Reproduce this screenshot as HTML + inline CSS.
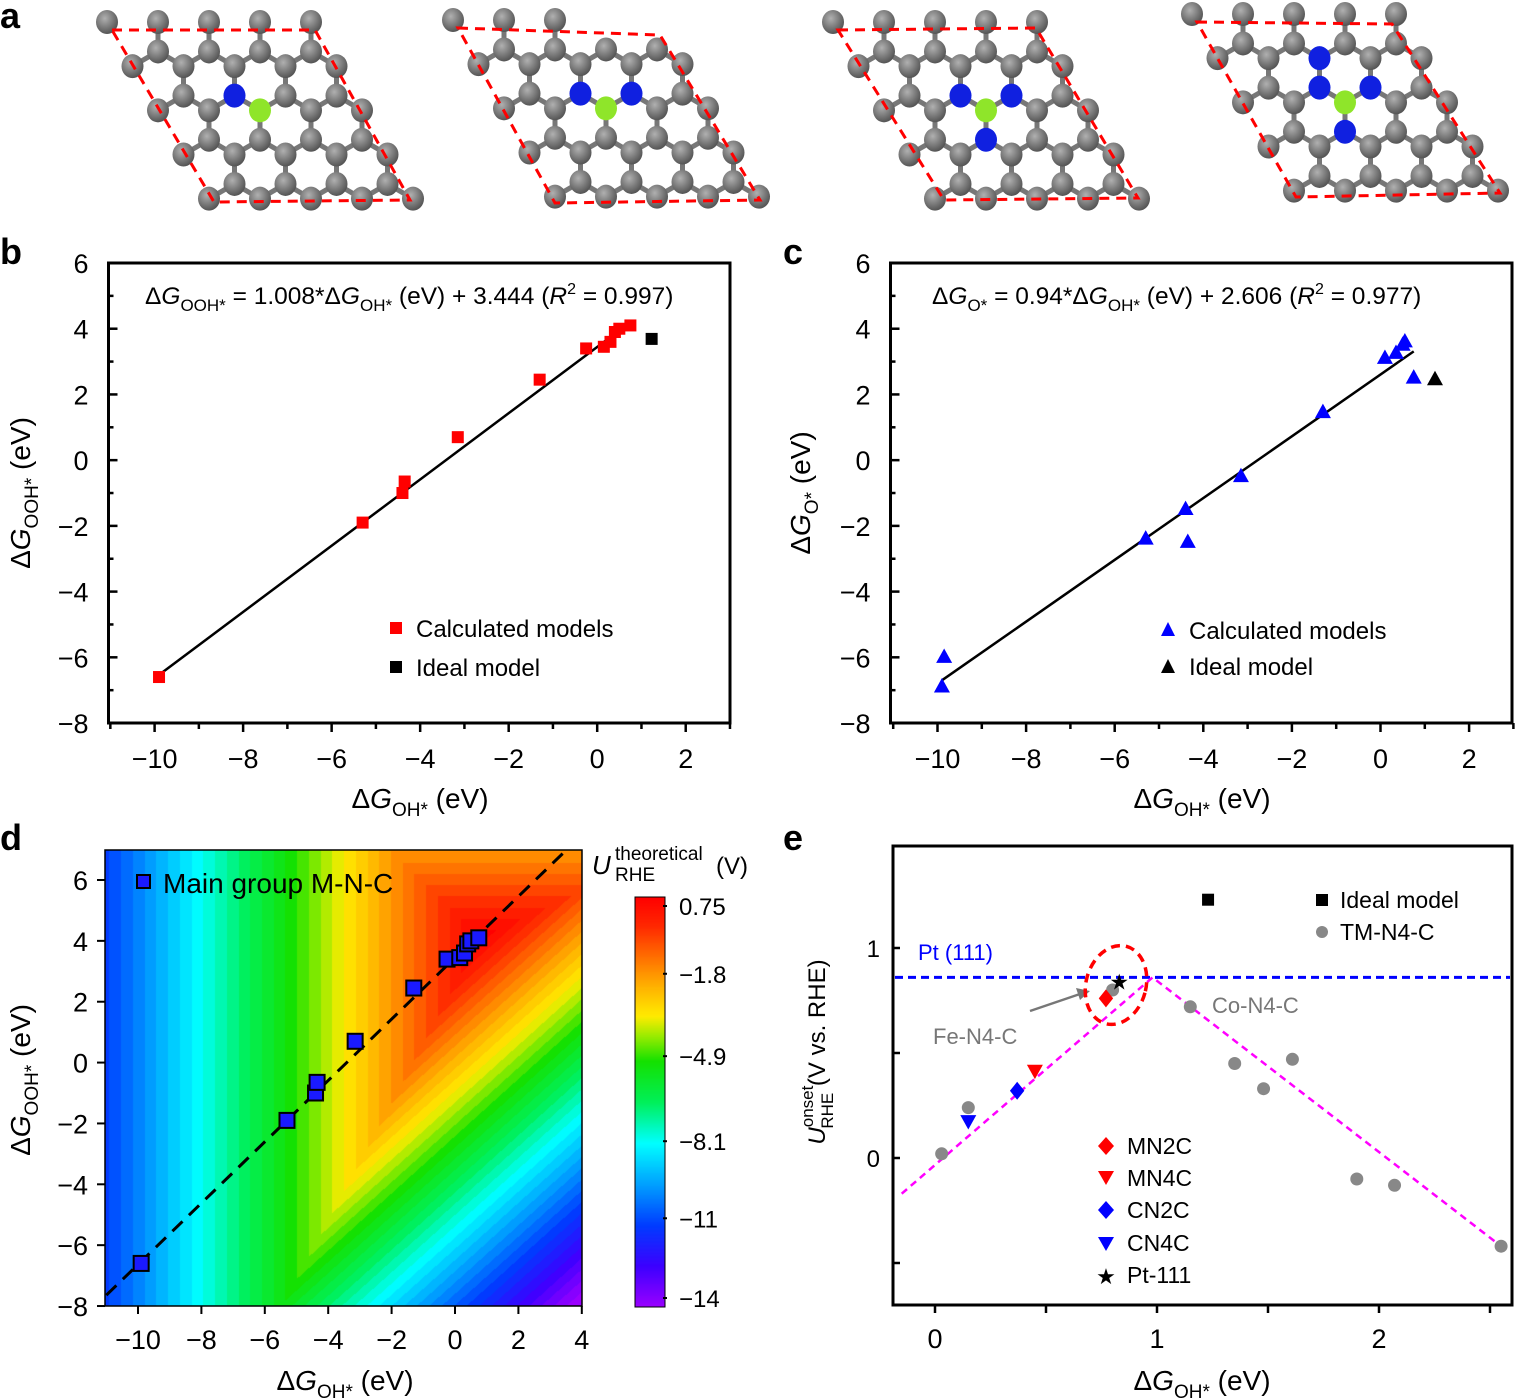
<!DOCTYPE html>
<html><head><meta charset="utf-8">
<style>
html,body{margin:0;padding:0;background:#fff;}
svg{display:block;font-family:"Liberation Sans",Arial,sans-serif;}
#heat{position:absolute;left:105px;top:850px;}
#cbar{position:absolute;left:635px;top:897px;}
</style></head>
<body>
<div style="position:relative;width:1516px;height:1400px;">
<canvas id="heat" width="477" height="456"></canvas>
<canvas id="cbar" width="30" height="410"></canvas>
<svg id="root" width="1516" height="1400" style="position:absolute;left:0;top:0">
  <g font-weight="bold" font-size="36">
    <text x="0" y="28">a</text>
    <text x="0" y="264">b</text>
    <text x="783" y="264">c</text>
    <text x="0" y="850">d</text>
    <text x="783" y="850">e</text>
  </g>
  <g id="mol"></g>

  <!-- panel b -->
  <rect x="108.5" y="263" width="621.5" height="460" fill="none" stroke="#000" stroke-width="3"/>
  <text x="145" y="304" font-size="24.5">Δ<tspan font-style="italic">G</tspan><tspan font-size="17" dy="7">OOH*</tspan><tspan dy="-7"> = 1.008*Δ</tspan><tspan font-style="italic">G</tspan><tspan font-size="17" dy="7">OH*</tspan><tspan dy="-7"> (eV) + 3.444 (</tspan><tspan font-style="italic">R</tspan><tspan font-size="16" dy="-10">2</tspan><tspan dy="10"> = 0.997)</tspan></text>
  <g id="pb"></g>
  <text x="416" y="637" font-size="24">Calculated models</text>
  <text x="416" y="676" font-size="24">Ideal model</text>
  <rect x="390" y="622" width="12" height="12" fill="#f00"/>
  <rect x="390" y="661" width="12" height="12" fill="#000"/>
  <text x="420" y="808" font-size="28" text-anchor="middle">Δ<tspan font-style="italic">G</tspan><tspan font-size="19" dy="8">OH*</tspan><tspan dy="-8"> (eV)</tspan></text>
  <text transform="translate(30,493) rotate(-90)" font-size="28" text-anchor="middle">Δ<tspan font-style="italic">G</tspan><tspan font-size="19" dy="8">OOH*</tspan><tspan dy="-8"> (eV)</tspan></text>

  <!-- panel c -->
  <rect x="890.5" y="263" width="621.5" height="460" fill="none" stroke="#000" stroke-width="3"/>
  <text x="932" y="304" font-size="24.5">Δ<tspan font-style="italic">G</tspan><tspan font-size="17" dy="7">O*</tspan><tspan dy="-7"> = 0.94*Δ</tspan><tspan font-style="italic">G</tspan><tspan font-size="17" dy="7">OH*</tspan><tspan dy="-7"> (eV) + 2.606 (</tspan><tspan font-style="italic">R</tspan><tspan font-size="16" dy="-10">2</tspan><tspan dy="10"> = 0.977)</tspan></text>
  <g id="pc"></g>
  <text x="1189" y="639" font-size="24">Calculated models</text>
  <text x="1189" y="675" font-size="24">Ideal model</text>
  <polygon points="1168,622 1161,636 1175,636" fill="#00f"/>
  <polygon points="1168,659 1161,673 1175,673" fill="#000"/>
  <text x="1202" y="808" font-size="28" text-anchor="middle">Δ<tspan font-style="italic">G</tspan><tspan font-size="19" dy="8">OH*</tspan><tspan dy="-8"> (eV)</tspan></text>
  <text transform="translate(810,493) rotate(-90)" font-size="28" text-anchor="middle">Δ<tspan font-style="italic">G</tspan><tspan font-size="19" dy="8">O*</tspan><tspan dy="-8"> (eV)</tspan></text>

  <!-- panel d -->
  <g id="pd"></g>
  <rect x="105" y="850" width="477" height="456" fill="none" stroke="#000" stroke-width="1.5"/>
  <rect x="137" y="875" width="13" height="13" fill="#1a1aff" stroke="#000" stroke-width="2"/>
  <text x="163" y="893" font-size="28">Main group M-N-C</text>
  <rect x="635" y="897" width="30" height="410" fill="none" stroke="#000" stroke-width="1"/>
  <g>
    <text x="592" y="874" font-size="26" font-style="italic">U</text>
    <text x="615" y="860" font-size="19">theoretical</text>
    <text x="615" y="881" font-size="19">RHE</text>
    <text x="716" y="874" font-size="24">(V)</text>
  </g>
  <g id="cbt"></g>
  <text x="345" y="1390" font-size="28" text-anchor="middle">Δ<tspan font-style="italic">G</tspan><tspan font-size="19" dy="8">OH*</tspan><tspan dy="-8"> (eV)</tspan></text>
  <text transform="translate(30,1080) rotate(-90)" font-size="28" text-anchor="middle">Δ<tspan font-style="italic">G</tspan><tspan font-size="19" dy="8">OOH*</tspan><tspan dy="-8"> (eV)</tspan></text>

  <!-- panel e -->
  <rect x="893" y="846" width="619" height="459" fill="none" stroke="#000" stroke-width="3"/>
  <g id="pe"></g>
  <text x="918" y="960" font-size="22" fill="#00f">Pt (111)</text>
  <text x="933" y="1044" font-size="22" fill="#777">Fe-N4-C</text>
  <text x="1212" y="1013" font-size="22" fill="#777">Co-N4-C</text>
  <line x1="1030" y1="1011" x2="1080" y2="994" stroke="#777" stroke-width="2.5"/>
  <polygon points="1090,991 1076,988 1080,1000" fill="#777"/>
  <ellipse cx="1116" cy="985" rx="30" ry="40" fill="none" stroke="#f00" stroke-width="3.5" stroke-dasharray="9,6" transform="rotate(15 1116 985)"/>
  <rect x="1316" y="894" width="12" height="12" fill="#000"/>
  <text x="1340" y="908" font-size="23">Ideal model</text>
  <circle cx="1322" cy="932" r="6" fill="#888"/>
  <text x="1340" y="940" font-size="23">TM-N4-C</text>
  <g font-size="23">
    <polygon points="1106,1137 1114,1146 1106,1155 1098,1146" fill="#f00"/>
    <text x="1127" y="1154">MN2C</text>
    <polygon points="1098,1171 1114,1171 1106,1185" fill="#f00"/>
    <text x="1127" y="1186">MN4C</text>
    <polygon points="1106,1201 1114,1210 1106,1219 1098,1210" fill="#00f"/>
    <text x="1127" y="1218">CN2C</text>
    <polygon points="1098,1237 1114,1237 1106,1251" fill="#00f"/>
    <text x="1127" y="1251">CN4C</text>
    <text x="1106" y="1284" text-anchor="middle" font-size="22">★</text>
    <text x="1127" y="1283">Pt-111</text>
  </g>
  <text x="1202" y="1390" font-size="28" text-anchor="middle">Δ<tspan font-style="italic">G</tspan><tspan font-size="19" dy="8">OH*</tspan><tspan dy="-8"> (eV)</tspan></text>
  <text transform="translate(825,1052) rotate(-90)" font-size="24" text-anchor="middle"><tspan font-style="italic">U</tspan><tspan font-size="17" dy="-12">onset</tspan><tspan font-size="17" dx="-43" dy="20">RHE</tspan><tspan dy="-8"> (V vs. RHE)</tspan></text>
</svg>
</div>
<script>
// ---------- data ----------
const bOH   = [-9.9,-5.3,-4.4,-4.35,-3.15,-1.3,-0.25,0.15,0.3,0.4,0.5,0.75];
const bOOH  = [-6.6,-1.9,-1.0,-0.65,0.7,2.45,3.4,3.45,3.6,3.9,4.0,4.1];
const bIdealOH = [1.23];
const bIdealOOH = [3.69];
const fitB = [1.008, 3.444];

const cOH  = [-9.9,-9.85,-5.3,-4.4,-4.35,-3.15,-1.3,0.1,0.35,0.5,0.55,0.75];
const cO   = [-6.85,-5.95,-2.35,-1.45,-2.45,-0.45,1.5,3.15,3.3,3.55,3.65,2.55];
const cIdealOH = [1.23];
const cIdealO = [2.5];
const fitC = [0.94, 2.606];

const xTicksBC = [-10,-8,-6,-4,-2,0,2];
const yTicksBC = [-8,-6,-4,-2,0,2,4,6];
const xTicksD = [-10,-8,-6,-4,-2,0,2,4];
const yTicksD = [-8,-6,-4,-2,0,2,4,6];
const cbTicks = [0.75,-1.8,-4.9,-8.1,-11,-14];

const eTmX = [0.03,0.15,0.8,1.15,1.35,1.48,1.61,1.9,2.07,2.55];
const eTmY = [0.02,0.24,0.8,0.72,0.45,0.33,0.47,-0.1,-0.13,-0.42];
const eIdeal = [1.23,1.23];
const eMN2C = [0.77,0.76];
const eMN4C = [0.45,0.41];
const eCN2C = [0.37,0.32];
const eCN4C = [0.15,0.17];
const ePt = [0.83,0.84];
const ePtLine = [0.86];
const eVolcanoX = [-0.15,0.98,2.55];
const eVolcanoY = [-0.17,0.86,-0.42];
const eXTicks = [0,1,2];
const eYTicks = [0,1];

const NS='http://www.w3.org/2000/svg';
function mk(tag, attrs, parent){const e=document.createElementNS(NS,tag);for(const k in attrs)e.setAttribute(k,attrs[k]);parent.appendChild(e);return e;}
function sq(p,x,y,s,fill,stroke){return mk('rect',{x:x-s/2,y:y-s/2,width:s,height:s,fill:fill,stroke:stroke||'none','stroke-width':2},p);}
function tri(p,x,y,s,fill,down){const h=s*0.9;const pts=down?`${x-s/2},${y-h/2} ${x+s/2},${y-h/2} ${x},${y+h/2}`:`${x},${y-h/2} ${x-s/2},${y+h/2} ${x+s/2},${y+h/2}`;return mk('polygon',{points:pts,fill:fill},p);}
function dia(p,x,y,s,fill){return mk('polygon',{points:`${x},${y-s} ${x+s*0.8},${y} ${x},${y+s} ${x-s*0.8},${y}`,fill:fill},p);}

// ---------- panel b / c ----------
function scatterPanel(gid, left, X, Y, xs, ys, ix, iy, fit, col, shape){
  const g=document.getElementById(gid);
  for(let v=-8; v<=6; v++){
    const t=mk('line',{x1:left,x2:left+(v%2===0?9:5),y1:Y(v),y2:Y(v),stroke:'#000','stroke-width':2.5},g);
    
    
  }
  for(let v=-11; v<=3; v++){
    const t=mk('line',{x1:X(v),x2:X(v),y1:723,y2:723+(v%2===0?9:6),stroke:'#000','stroke-width':2.5},g);
    
    
  }
  xTicksBC.forEach(v=>{
    const t=mk('text',{x:X(v),y:768,'font-size':27,'text-anchor':'middle'},g);
    t.textContent=(v<0?'\u2212'+(-v):v);
    
    
  });
  yTicksBC.forEach(v=>{
    const t=mk('text',{x:left-20,y:Y(v)+10,'font-size':27,'text-anchor':'end'},g);
    t.textContent=(v<0?'\u2212'+(-v):v);
    
    
  });
  const x0=Math.min(...xs), x1=Math.max(...xs);
  const ln=mk('line',{x1:X(x0),y1:Y(fit[0]*x0+fit[1]),x2:X(x1),y2:Y(fit[0]*x1+fit[1]),stroke:'#000','stroke-width':2.5},g);
  
  
  xs.forEach((v,i)=>{
    const m=shape==='sq'?sq(g,X(v),Y(ys[i]),12,col):tri(g,X(v),Y(ys[i]),16,col);
    
    
  });
  ix.forEach((v,i)=>{
    const m=shape==='sq'?sq(g,X(v),Y(iy[i]),12,'#000'):tri(g,X(v),Y(iy[i]),16,'#000');
    
    
  });
}
const YB=v=>263+(6-v)*32.86;
scatterPanel('pb',108.5,v=>154.6+(v+10)*44.26,YB,bOH,bOOH,bIdealOH,bIdealOOH,fitB,'#f00','sq');
scatterPanel('pc',890.5,v=>937.5+(v+10)*44.3,YB,cOH,cO,cIdealOH,cIdealO,fitC,'#00f','tri');

// ---------- panel d ----------
const XD=v=>138+(v+10)*31.7, YD=v=>880+(6-v)*30.43;
const cstops=[[0,[155,0,255]],[0.1,[60,0,255]],[0.2,[0,60,255]],[0.3,[0,160,255]],[0.4,[0,255,255]],[0.5,[0,240,90]],[0.6,[20,225,0]],[0.66,[150,235,0]],[0.71,[255,235,0]],[0.78,[255,180,0]],[0.85,[255,115,0]],[0.93,[255,40,0]],[1,[255,0,0]]];
function cmap(t){t=Math.max(0,Math.min(1,t));for(let i=1;i<cstops.length;i++){if(t<=cstops[i][0]){const a=cstops[i-1],b=cstops[i];const f=(t-a[0])/(b[0]-a[0]);return a[1].map((c,k)=>Math.round(c+(b[1][k]-c)*f));}}return cstops[cstops.length-1][1];}
function Ulim(x,y){const gO=fitC[0]*x+fitC[1];return Math.min(4.92-y,y-gO,gO-x,x);}
(function(){
  const cv=document.getElementById('heat'),ctx=cv.getContext('2d');const img=ctx.createImageData(477,456);
  for(let j=0;j<456;j++)for(let i=0;i<477;i++){
    const x=-10+(105+i-138)/31.7, y=6-(850+j-880)/30.43;
    let u=Ulim(x,y); u=Math.round(u/0.37)*0.37;
    const c=cmap((u+14)/14.75);const k=(j*477+i)*4;img.data[k]=c[0];img.data[k+1]=c[1];img.data[k+2]=c[2];img.data[k+3]=255;}
  ctx.putImageData(img,0,0);
  const cb=document.getElementById('cbar'),c2=cb.getContext('2d');
  for(let j=0;j<410;j++){const c=cmap(1-j/410);c2.fillStyle=`rgb(${c[0]},${c[1]},${c[2]})`;c2.fillRect(0,j,30,1);}
})();
(function(){
  const g=document.getElementById('pd');
  xTicksD.forEach(v=>{
    const t=mk('line',{x1:XD(v),x2:XD(v),y1:1306,y2:1314,stroke:'#000','stroke-width':2},g);
    
    
    const l=mk('text',{x:XD(v),y:1349,'font-size':27,'text-anchor':'middle'},g);
    l.textContent=(v<0?'\u2212'+(-v):v);
    
    
  });
  yTicksD.forEach(v=>{
    const t=mk('line',{x1:97,x2:105,y1:YD(v),y2:YD(v),stroke:'#000','stroke-width':2},g);
    
    
    const l=mk('text',{x:88,y:YD(v)+10,'font-size':27,'text-anchor':'end'},g);
    l.textContent=(v<0?'\u2212'+(-v):v);
    
    
  });
  const xa=-11, xb=3.5;
  const ln=mk('line',{x1:XD(xa),y1:YD(fitB[0]*xa+fitB[1]),x2:XD(xb),y2:YD(fitB[0]*xb+fitB[1]),stroke:'#000','stroke-width':3,'stroke-dasharray':'14,9'},g);
  
  
  bOH.forEach((v,i)=>{
    const m=sq(g,XD(v),YD(bOOH[i]),15,'#1a1aff','#000');
    
    
  });
  const ct=document.getElementById('cbt');
  cbTicks.forEach(v=>{
    const y=897+(0.75-v)/14.75*392+9;
    const t=mk('line',{x1:663,x2:667,y1:y,y2:y,stroke:'#000','stroke-width':2},ct);
    
    
    const l=mk('text',{x:679,y:y+9,'font-size':24},ct);
    l.textContent=(v<0?'\u2212'+(-v):v);
    
    
  });
})();

// ---------- panel e ----------
(function(){
  const XE=v=>935+v*222, YE=v=>1158-v*210;
  const g=document.getElementById('pe');
  for(let v=0; v<=2.5; v+=0.5){
    const t=mk('line',{x1:XE(v),x2:XE(v),y1:1305,y2:1313,stroke:'#000','stroke-width':2.5},g);
    
    
  }
  for(let v=-0.5; v<=1; v+=0.5){
    const t=mk('line',{x1:893,x2:900,y1:YE(v),y2:YE(v),stroke:'#000','stroke-width':2.5},g);
    
    
  }
  eXTicks.forEach(v=>{
    const l=mk('text',{x:XE(v),y:1348,'font-size':27,'text-anchor':'middle'},g);
    l.textContent=v;
    
    
  });
  eYTicks.forEach(v=>{
    const l=mk('text',{x:880,y:YE(v)+9,'font-size':24,'text-anchor':'end'},g);
    l.textContent=v;
    
    
  });
  const pl=mk('line',{x1:895,x2:1510,y1:YE(ePtLine[0]),y2:YE(ePtLine[0]),stroke:'#00f','stroke-width':3,'stroke-dasharray':'8,5'},g);
  
  
  const vp=mk('polyline',{points:eVolcanoX.map((v,i)=>XE(v)+','+YE(eVolcanoY[i])).join(' '),fill:'none',stroke:'#f0f','stroke-width':2.5,'stroke-dasharray':'7,5'},g);
  
  
  eTmX.forEach((v,i)=>{
    const c=mk('circle',{cx:XE(v),cy:YE(eTmY[i]),r:6.5,fill:'#888'},g);
    
    
  });
  let m=sq(g,XE(eIdeal[0]),YE(eIdeal[1]),12,'#000');
  
  
  m=dia(g,XE(eMN2C[0]),YE(eMN2C[1]),9,'#f00');
  
  
  m=tri(g,XE(eMN4C[0]),YE(eMN4C[1]),16,'#f00',true);
  
  
  m=dia(g,XE(eCN2C[0]),YE(eCN2C[1]),9,'#00f');
  
  
  m=tri(g,XE(eCN4C[0]),YE(eCN4C[1]),16,'#00f',true);
  
  
  m=mk('text',{x:XE(ePt[0]),y:YE(ePt[1])+8,'font-size':22,'text-anchor':'middle'},g);
  m.textContent='★';
  
  
})();

// ---------- panel a (molecular structures) ----------
(function(){
  const g=document.getElementById('mol');
  const defs=mk('defs',{},g);
  const rg=mk('radialGradient',{id:'gat',cx:'40%',cy:'35%',r:'65%'},defs);
  mk('stop',{offset:'0','stop-color':'#b0b0b0'},rg);mk('stop',{offset:'1','stop-color':'#555'},rg);
  const cells=[
    {p:[[112,30],[315,30],[410,200],[214,202]],nN:1},
    {p:[[458,28],[660,35],[760,200],[555,203]],nN:2},
    {p:[[838,30],[1036,28],[1138,198],[944,200]],nN:3},
    {p:[[1197,22],[1392,24],[1500,193],[1296,197]],nN:4}];
  const w=51,a=w/Math.sqrt(3);
  function inside(P,x,y,m){
    // point in convex polygon with margin m
    for(let k=0;k<4;k++){const A=P[k],B=P[(k+1)%4];const ex=B[0]-A[0],ey=B[1]-A[1];const L=Math.hypot(ex,ey);
      const cr=(ex*(y-A[1])-ey*(x-A[0]))/L; if(cr<-m)return false;}
    return true;
  }
  cells.forEach((c,ci)=>{
    const sg=mk('g',{},g);
    
    
    const P=c.p;
    const x0=P[0][0]-5, y0=P[0][1]-8;
    const atoms=[];
    for(let r=-1;r<6;r++){
      const ya=y0+r*1.5*a, yb=ya+a;
      for(let i=-2;i<10;i++){
        const x=x0+i*w+((r%2+2)%2)*w/2;
        if(inside(P,x,ya,12)) atoms.push([x,ya]);
        if(inside(P,x,yb,12)) atoms.push([x,yb]);
      }
    }
    atoms.forEach((p,i)=>atoms.forEach((q,j)=>{if(j>i){const d=Math.hypot(p[0]-q[0],p[1]-q[1]);if(d<a*1.1){mk('line',{x1:p[0],y1:p[1],x2:q[0],y2:q[1],stroke:'#777','stroke-width':5},sg);}}}));
    const cx=(P[0][0]+P[1][0]+P[2][0]+P[3][0])/4, cy=(P[0][1]+P[3][1])/2;
    const order=atoms.map((p,i)=>[Math.hypot(p[0]-cx,p[1]-cy),i]).sort((u,v)=>u[0]-v[0]);
    const center=order[0][1];
    const near=atoms.map((p,i)=>[Math.hypot(p[0]-atoms[center][0],p[1]-atoms[center][1]),i]).filter(u=>u[1]!==center).sort((u,v)=>u[0]-v[0]).slice(0,c.nN).map(u=>u[1]);
    atoms.forEach((p,i)=>{
      let fill='url(#gat)';
      if(i===center)fill='#8fe52a'; else if(near.includes(i))fill='#1020e0';
      mk('ellipse',{cx:p[0],cy:p[1],rx:11,ry:12,fill:fill},sg);
    });
    const poly=mk('polygon',{points:P.map(q=>q.join(',')).join(' '),fill:'none',stroke:'#f00','stroke-width':3,'stroke-dasharray':'10,7'},sg);
    
    
  });
})();
</script>
</body></html>
